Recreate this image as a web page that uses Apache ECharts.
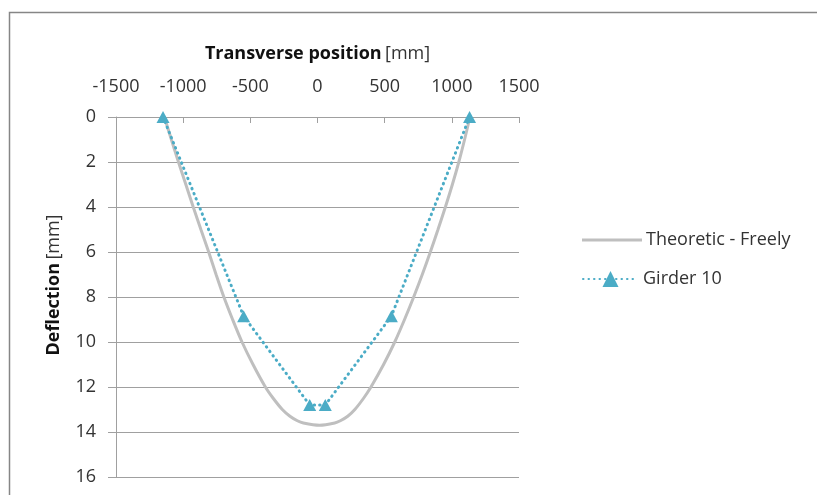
<!DOCTYPE html>
<html>
<head>
<meta charset="utf-8">
<script src="https://cdn.jsdelivr.net/npm/echarts@6/dist/echarts.min.js"></script>
<style>
html,body{margin:0;padding:0;background:#fff;}
#chart{width:817px;height:495px;}
</style>
</head>
<body>
<div id="chart"></div>
<script>
// Theoretic - Freely: transverse position [mm] and deflection [mm]
const theoreticX = [-1140, -1088, -1035, -980, -925, -868, -810, -755, -697, -632, -562, -480, -388, -330, -262, -205, -150, -105, 15, 128, 170, 225, 278, 343, 398, 492, 575, 648, 716, 780, 840, 897, 952, 1004, 1052, 1095, 1135];
const theoreticY = [0, 1, 2, 3, 4, 5, 6, 7, 8, 9, 10, 11, 12, 12.5, 13, 13.3, 13.5, 13.6, 13.7, 13.6, 13.5, 13.3, 13, 12.5, 12, 11, 10, 9, 8, 7, 6, 5, 4, 3, 2, 1, 0];
// Girder 10 measurements
const girderX = [-1150, -550, -58, 58, 550, 1132];
const girderY = [0, 8.85, 12.8, 12.8, 8.85, 0];
// Axis ticks
const xTicks = [-1500, -1000, -500, 0, 500, 1000, 1500];
const yTicks = [0, 2, 4, 6, 8, 10, 12, 14, 16];

const seriesNames = ['Theoretic - Freely', 'Girder 10'];

const chart = echarts.init(document.getElementById('chart'), null, {renderer: 'canvas'});
const font = 'Open Sans, sans-serif';
const gridColor = '#a0a0a0';
const textColor = '#333333';
const greyLine = '#bfbfbf';
const blue = '#4bacc6';
const fs = 18;

chart.setOption({
  animation: false,
  backgroundColor: '#ffffff',
  graphic: [{
    type: 'rect',
    shape: {x: 9.5, y: 12.5, width: 820, height: 500},
    style: {fill: 'none', stroke: '#868686', lineWidth: 1.5},
    silent: true
  }],
  grid: {left: 116, top: 117, width: 403, height: 360, containLabel: false},
  legend: [{
    orient: 'vertical',
    left: 577,
    top: 226,
    itemWidth: 60,
    itemHeight: 3,
    icon: 'rect',
    data: [seriesNames[0]],
    textStyle: {fontFamily: font, fontSize: fs, color: textColor, padding: [0, 0, 0, -1]}
  }, {
    orient: 'vertical',
    left: 577,
    top: 265,
    itemWidth: 55,
    itemHeight: 20,
    data: [seriesNames[1]],
    textStyle: {fontFamily: font, fontSize: fs, color: textColor, padding: [0, 0, 0, 0]}
  }],
  xAxis: {
    type: 'value',
    position: 'top',
    min: xTicks[0],
    max: xTicks[xTicks.length - 1],
    interval: 500,
    name: '{b|Transverse position} {n|[mm]}',
    nameLocation: 'middle',
    nameGap: 54,
    nameTextStyle: {
      rich: {
        b: {fontFamily: font, fontSize: fs, fontWeight: 'bold', color: '#111'},
        n: {fontFamily: font, fontSize: fs, color: textColor}
      }
    },
    axisLine: {show: true, onZero: false, lineStyle: {color: gridColor, width: 1}},
    axisTick: {show: true, inside: true, length: 6, lineStyle: {color: gridColor}},
    axisLabel: {fontFamily: font, fontSize: fs, color: textColor, margin: 21, formatter: v => String(v)},
    splitLine: {show: false}
  },
  yAxis: {
    type: 'value',
    inverse: true,
    min: yTicks[0],
    max: yTicks[yTicks.length - 1],
    interval: 2,
    name: '{b|Deflection} {n|[mm]}',
    nameLocation: 'middle',
    nameGap: 53,
    nameRotate: 90,
    nameTextStyle: {
      padding: [0, 0, 0, 24],
      rich: {
        b: {fontFamily: font, fontSize: fs, fontWeight: 'bold', color: '#111'},
        n: {fontFamily: font, fontSize: fs, color: textColor}
      }
    },
    axisLine: {show: true, onZero: false, lineStyle: {color: gridColor, width: 1}},
    axisTick: {show: true, inside: false, length: 8, lineStyle: {color: gridColor}},
    axisLabel: {fontFamily: font, fontSize: fs, color: textColor, margin: 20, formatter: v => String(v)},
    splitLine: {show: true, lineStyle: {color: gridColor, width: 1}}
  },
  series: [
    {
      name: seriesNames[0],
      type: 'line',
      smooth: 0.3,
      symbol: 'none',
      data: theoreticX.map((x, i) => [x, theoreticY[i]]),
      lineStyle: {color: greyLine, width: 3},
      itemStyle: {color: greyLine},
      z: 2
    },
    {
      name: seriesNames[1],
      type: 'line',
      symbol: 'triangle',
      symbolSize: [13, 12],
      data: girderX.map((x, i) => [x, girderY[i]]),
      lineStyle: {color: blue, width: 3, type: [0.5, 5], cap: 'round'},
      itemStyle: {color: blue},
      z: 3
    }
  ]
});
</script>
</body>
</html>
